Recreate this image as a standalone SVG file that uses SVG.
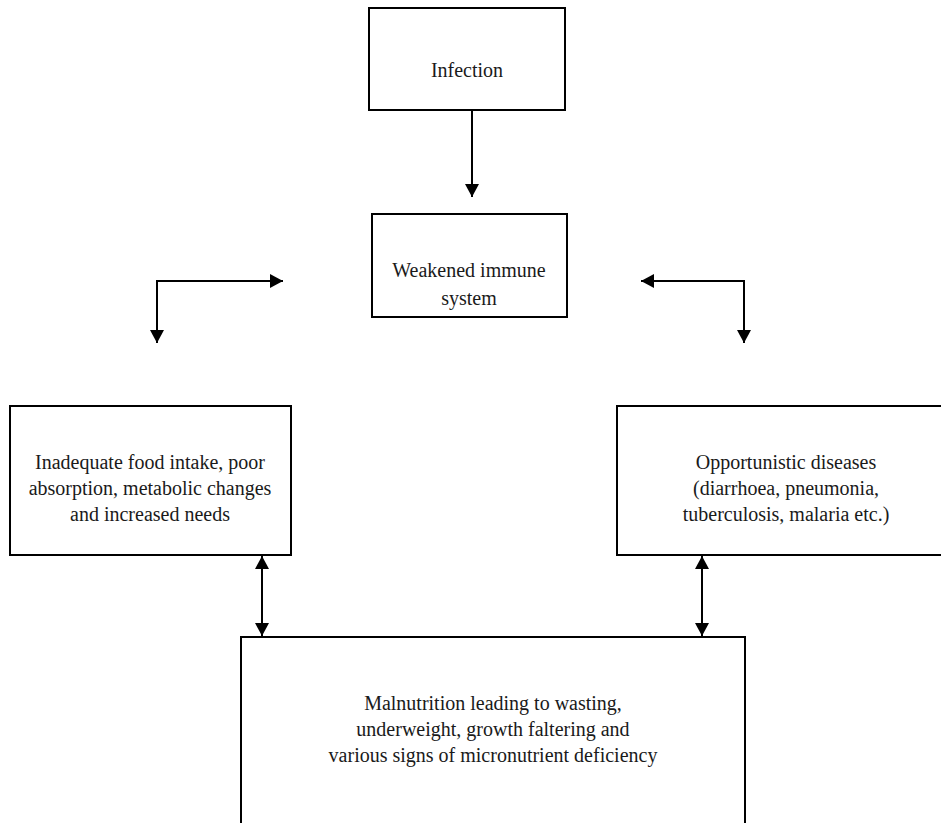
<svg xmlns="http://www.w3.org/2000/svg" width="941" height="823" viewBox="0 0 941 823">
<style>
.box{fill:#fff;stroke:#000;stroke-width:2}
.t{font-family:"Liberation Serif","Times New Roman",serif;font-size:20px;fill:#1a1a1a;text-anchor:middle}
.c{fill:none;stroke:#000;stroke-width:2}
</style>
<defs>
<marker id="ah" markerUnits="userSpaceOnUse" markerWidth="14" markerHeight="14" refX="13" refY="7" orient="auto-start-reverse">
<path d="M0,0 L13,7 L0,14 z" fill="#000"/>
</marker>
</defs>
<rect width="941" height="823" fill="#fff"/>
<g id="infection">
<rect class="box" x="369" y="8" width="196" height="102"/>
<text class="t" x="467" y="77">Infection</text>
</g>
<g id="weakened">
<rect class="box" x="372" y="214" width="195" height="103"/>
<text class="t" x="469" y="277">Weakened immune</text>
<text class="t" x="469" y="305">system</text>
</g>
<g id="inadequate">
<rect class="box" x="10" y="406" width="281" height="149"/>
<text class="t" x="150" y="469">Inadequate food intake, poor</text>
<text class="t" x="150" y="495">absorption, metabolic changes</text>
<text class="t" x="150" y="521">and increased needs</text>
</g>
<g id="opportunistic">
<rect class="box" x="617" y="406" width="330" height="149"/>
<text class="t" x="786" y="469">Opportunistic diseases</text>
<text class="t" x="786" y="495">(diarrhoea, pneumonia,</text>
<text class="t" x="786" y="521">tuberculosis, malaria etc.)</text>
</g>
<g id="malnutrition">
<rect class="box" x="241" y="637" width="504" height="200"/>
<text class="t" x="493" y="710">Malnutrition leading to wasting,</text>
<text class="t" x="493" y="736">underweight, growth faltering and</text>
<text class="t" x="493" y="762">various signs of micronutrient deficiency</text>
</g>
<g id="connectors">
<path class="c" d="M472,110 V197" marker-end="url(#ah)"/>
<path class="c" d="M283,281 H157 V343" marker-start="url(#ah)" marker-end="url(#ah)"/>
<path class="c" d="M641,281 H744 V343" marker-start="url(#ah)" marker-end="url(#ah)"/>
<path class="c" d="M262,556 V636" marker-start="url(#ah)" marker-end="url(#ah)"/>
<path class="c" d="M702,556 V636" marker-start="url(#ah)" marker-end="url(#ah)"/>
</g>
</svg>
